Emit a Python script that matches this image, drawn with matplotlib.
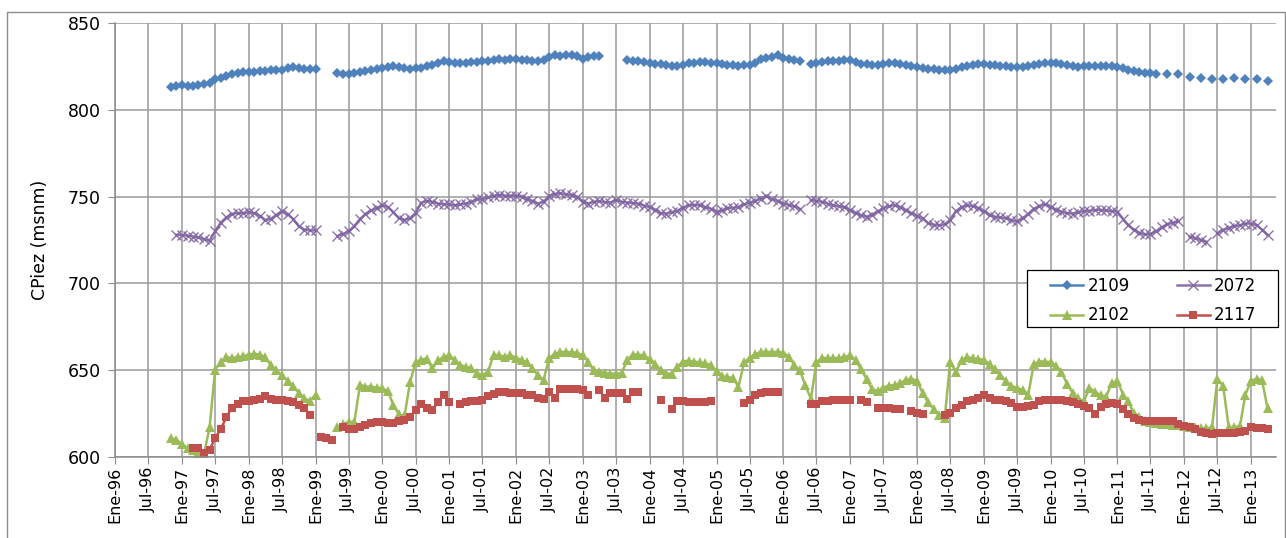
"""
Evolución de la cota piezométrica (CPiez, msnm) en cuatro pozos, 1996-2013.
Datos mensuales; None = mes sin medida (la línea se corta ahí).
"""

import datetime as dt

import numpy as np
import matplotlib
matplotlib.use("Agg")
import matplotlib.pyplot as plt
from matplotlib.patches import Rectangle

N = None

# Primer mes de las series: noviembre de 1996. Una fila por año.
START = dt.date(1996, 11, 1)

cp_2109 = [
    813, 813.5,
    814, 813.5, 813.5, 814.5, 815, 815.5, 817.5, 818.5, 819.5, 820.5, 821, 821.5,
    822, 822, 822.5, 822.5, 823, 823, 823, 824, 824.5, 824, 823.5, 823.5,
    823.5, N, N, N, 821, 820.5, 820.5, 821, 821.5, 822.5, 823, 823.5,
    824, 824.5, 825, 824.5, 824, 823.5, 824, 824, 825, 826, 827, 828,
    827.5, 827, 827, 827, 827.5, 827.5, 828, 828, 828.5, 829, 828.5, 829,
    829, 828.5, 828.5, 828, 828, 828.7, 830.5, 831.5, 831, 831.5, 831.5, 831,
    829, 830.5, 831, 831, N, N, N, N, 828.7, 828.3, 828, 827.3,
    826.8, 826.5, 826.2, 825.8, 825.5, 825.5, 826, 826.8, 827.2, 827.6, 827.6, 827.2,
    826.8, 826.3, 825.9, 825.7, 825.5, 825.7, 826, 827, 829, 829.6, 830.5, 831.5,
    830, 829, 828.5, 828, N, 826.4, 827, 827.5, 828, 828, 828.3, 828.7,
    828.5, 827.5, 826.6, 826.3, 826, 825.9, 826.5, 827, 827, 826.5, 825.8, 825,
    824.5, 824, 823.5, 823.3, 823, 822.9, 823.2, 823.5, 824.5, 825.3, 826, 826.2,
    826.2, 826, 825.8, 825.5, 825, 824.5, 824.5, 824.8, 825.5, 826, 826.5, 826.7,
    826.7, 826.7, 826.3, 825.8, 825.2, 824.8, 825, 825.3, 825.5, 825.5, 825.3, 825,
    824.5, 823.8, 823, 822.3, 821.8, 821.3, 821, 820.6, N, 820.6, N, 820.5,
    N, 819, N, 818.3, N, 817.7, N, 817.7, N, 818.3, N, 817.7,
    N, 817.7, N, 816.8,
]

cp_2072 = [
    N, 728,
    727.8, 727.5, 727, 726.5, 725.5, 724.5, 730, 735, 738, 740, 740.5, 740.5,
    741, 740.5, 739, 736.5, 737, 739.5, 741.5, 740, 737, 733, 731, 730.5,
    730.5, N, N, N, 727.3, 728.5, 730, 733, 737, 740, 742, 743.5,
    745, 744, 741, 737.5, 736.5, 737.5, 740.5, 746.5, 747.5, 747, 746, 745.5,
    745.5, 745, 745.5, 746, 747, 748.4, 748.5, 749.5, 750.5, 751, 750.5, 750.5,
    750.5, 750, 748.5, 747.5, 746, 747, 750.5, 751.5, 752, 751.3, 751, 750,
    747, 746, 747, 747.4, 746.8, 746.6, 748, 747, 746.6, 746.3, 746, 744.8,
    744, 742.5, 740.5, 740.2, 741, 741.8, 743.5, 745, 745.2, 745, 744, 743,
    741.3, 742, 743.2, 743.5, 744, 745.5, 746.5, 747.5, 748.9, 750.3, 748.5, 747.5,
    746, 745.2, 744.5, 743, N, 748, 747.5, 747, 746, 745, 744.5, 744,
    742, 740.5, 739.3, 738.4, 739.5, 741.5, 743.2, 744.5, 745, 744, 742, 740.5,
    739, 737.5, 734.8, 733.8, 733.5, 734, 736.5, 741.5, 744, 745, 744.5, 743.5,
    741.5, 739.5, 738.4, 738, 737.6, 736.5, 735.7, 737.5, 740, 743, 744.5, 745.5,
    744, 742.5, 741.3, 740.5, 740.2, 741, 741.5, 741.8, 742.3, 742.3, 742, 741.8,
    741.3, 737, 733.5, 731, 729.2, 728.2, 728.5, 730, 732.3, 734, 735, 735.7,
    N, 727, 726, 725, 724, N, 729, 730.8, 732, 733, 733.5, 734.5,
    734.5, 733.5, 731, 728,
]

cp_2102 = [
    611, 610,
    607.5, 605, 604, 602.5, 601.5, 617, 650, 655, 657.5, 657, 657.5, 658,
    659, 659.5, 659, 657.5, 653, 650, 647, 644, 641, 637, 634, 632,
    636, N, N, N, 617.3, 619, 620.3, 620, 641.5, 640.5, 640.5, 640,
    639.5, 638, 630, 624.5, 623.5, 643, 654.8, 656, 656.7, 651, 655.8, 657.5,
    658.6, 655.8, 652.9, 652, 651, 648.5, 647.2, 649.2, 659, 658.5, 657.8, 658.7,
    657, 655.9, 654.5, 651, 647, 644.5, 657, 659.5, 660.5, 660.5, 660.3, 660,
    658.5, 654.6, 650, 649, 648.5, 648, 648, 648.2, 656, 659, 659, 658.5,
    656.5, 653.6, 650, 648, 648, 652, 655, 655.5, 655, 654.5, 654, 653,
    649.6, 646.5, 646, 645.5, 640.5, 654.6, 657, 659.5, 660.5, 660.5, 660.5, 660.5,
    660, 657.8, 653, 650, 641.3, 633.6, 654.6, 657, 657, 657, 657, 657.5,
    658.5, 656, 650.5, 645, 639, 638, 640, 641, 641.5, 642.5, 644.5, 645,
    644, 637, 631.7, 627.9, 624, 622.2, 655, 649, 655.8, 657.6, 656.8, 656.5,
    656, 653.5, 650.5, 647.5, 643.5, 641, 639.6, 638.7, 636, 653.5, 655, 655,
    654.5, 652.5, 649, 642, 637, 633.8, 632, 639.6, 637.7, 635.5, 634.8, 642.6,
    644, 636, 632, 625.2, 623, 620.5, 620, 619.5, 619, 619, 618.5, 618.5,
    618, 617, 617, 616.5, 616.5, 617, 645, 641, 617, 617, 618, 636,
    644, 645, 644.5, 628,
]

cp_2117 = [
    N, N,
    N, N, 605, 605, 602.5, 604, 611, 616, 623, 628.5, 630.5, 632,
    632.5, 633, 633.5, 635, 633.5, 633, 632.7, 632.5, 631.5, 630, 628, 624,
    N, 611.5, 610.7, 609.8, N, 617.3, 616.3, 616, 617.3, 618.4, 619.4, 620.3,
    620.3, 619.4, 619.8, 621, 621.3, 623, 627, 630.7, 628, 627, 631.7, 635.5,
    631.7, N, 630.7, 631.5, 632, 632.5, 632.7, 635, 636.5, 637.6, 637.6, 637,
    637, 637, 636, 635.8, 634, 633.5, 637.6, 634, 639, 639, 639, 639,
    638.6, 635.7, N, 638.6, 634.2, 636.7, 636.7, 636.7, 633.3, 637.6, 637.6, N,
    N, N, 633, N, 627.6, 632, 632, 631.5, 631.5, 631.5, 631.5, 632,
    N, N, N, N, N, 631, 633, 636, 636.7, 637.6, 637.6, 637.6,
    N, N, N, N, N, 630.5, 630.5, 632, 632.4, 632.9, 632.9, 632.9,
    632.9, N, 632.9, 631.4, N, 628, 628, 628, 627.8, 627.6, N, 626.5,
    625.5, 624.6, N, N, N, 624, 625.6, 628.2, 630, 632, 632.9, 633.9,
    635.5, 634, 633, 632.9, 632.5, 631, 629, 628.8, 629.2, 630, 632, 632.9,
    632.9, 632.9, 632.9, 632.5, 631.4, 630.6, 629.5, 628, 624.6, 628.8, 630.6, 631,
    630.5, 627.5, 624.5, 622.5, 621.3, 620.7, 620.7, 620.7, 620.7, 620.7, 620.5, 619,
    618, 617, 616.4, 614.5, 613.7, 613.5, 613.7, 613.7, 614, 614, 614.5, 615,
    617, 616.8, 616.5, 616.3,
]

wells = ["2109", "2072", "2102", "2117"]
series = [cp_2109, cp_2072, cp_2102, cp_2117]
colors = ["#4F81BD", "#8064A2", "#9BBB59", "#C0504D"]
markers = ["D", "x", "^", "s"]
msizes = [5.5, 7, 6.5, 6]

y_ticks = [600, 650, 700, 750, 800, 850]
month_names = {1: "Ene", 7: "Jul"}


def month_dates(start, n):
    out = []
    y, m = start.year, start.month
    for _ in range(n):
        out.append(dt.date(y, m, 1))
        m += 1
        if m > 12:
            y, m = y + 1, 1
    return out


def main():
    plt.rcParams["font.family"] = ["DejaVu Sans"]

    fig = plt.figure(figsize=(12.86, 5.38), dpi=100)
    ax = fig.add_axes([115 / 1286, 81 / 538, 1161 / 1286, 434 / 538])

    for name, vals, col, mk, ms in zip(wells, series, colors, markers, msizes):
        y = np.array([np.nan if v is None else v for v in vals], dtype=float)
        x = month_dates(START, len(y))
        kw = dict(color=col, lw=1.8, marker=mk, markersize=ms, label=name)
        if mk == "x":
            kw.update(markeredgewidth=1.0, alpha=0.9)
        else:
            kw.update(markeredgewidth=0)
        ax.plot(x, y, **kw)

    # eje temporal: una marca cada seis meses
    ticks = month_dates(dt.date(1996, 1, 1), 211)[::6]
    ax.set_xticks(ticks)
    ax.set_xticklabels([f"{month_names[d.month]}-{d.year % 100:02d}" for d in ticks],
                       rotation=90, fontsize=11.5)
    ax.set_xlim(dt.date(1996, 1, 1), dt.date(2013, 5, 17))

    ax.set_ylim(600, 850)
    ax.set_yticks(y_ticks)
    ax.tick_params(axis="y", labelsize=12.5, length=5, color="#8c8c8c", pad=5)
    ax.tick_params(axis="x", length=5, color="#8c8c8c", pad=2)
    ax.set_ylabel("CPiez (msnm)", fontsize=12.5, labelpad=14)

    ax.grid(True, color="#9a9a9a", lw=1.1)
    ax.set_axisbelow(True)
    for side in ("top", "right"):
        ax.spines[side].set_visible(False)
    for side in ("left", "bottom"):
        ax.spines[side].set_color("#8c8c8c")
        ax.spines[side].set_linewidth(1.1)

    # recuadro de la leyenda (dibujado aparte para fijar su tamaño)
    ax.add_patch(Rectangle((0.7855, 0.2995), 0.2162, 0.1314, transform=ax.transAxes,
                           facecolor="white", edgecolor="black", lw=0.9,
                           zorder=4.5, clip_on=False))
    h, l = ax.get_legend_handles_labels()
    order = [0, 2, 1, 3]
    leg = ax.legend([h[i] for i in order], [l[i] for i in order], ncol=2,
                    loc="upper left", bbox_to_anchor=(0.791, 0.453),
                    fontsize=12, frameon=False,
                    handlelength=2.0, columnspacing=2.8, borderpad=0.5,
                    labelspacing=0.68, handletextpad=0.25)
    leg.set_zorder(5)

    # borde del área del gráfico
    fig.patches.append(Rectangle((7 / 1286, -0.01), 1278 / 1286, 1 - 12 / 538 + 0.01,
                                 transform=fig.transFigure, fill=False,
                                 edgecolor="#8c8c8c", lw=1.0))

    fig.savefig("out.png", dpi=100)


if __name__ == "__main__":
    main()
